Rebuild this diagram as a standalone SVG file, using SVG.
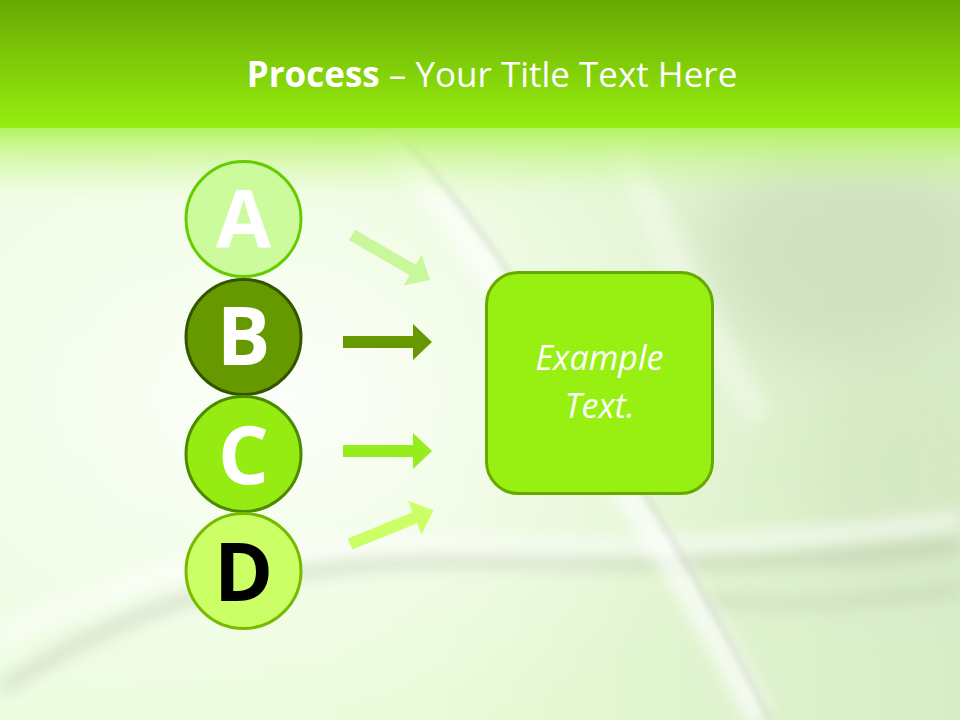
<svg xmlns="http://www.w3.org/2000/svg" width="960" height="720" viewBox="0 0 960 720">
<defs>
<linearGradient id="bgBase" x1="0" y1="0" x2="1" y2="0">
<stop offset="0" stop-color="#eefde2"/>
<stop offset="0.45" stop-color="#e8fbd6"/>
<stop offset="1" stop-color="#d8ecc8"/>
</linearGradient>
<linearGradient id="header" x1="0" y1="0" x2="0" y2="1">
<stop offset="0" stop-color="#68a804"/>
<stop offset="0.5" stop-color="#80cc08"/>
<stop offset="1" stop-color="#96ee10"/>
</linearGradient>
<linearGradient id="fadeTop" x1="0" y1="0" x2="0" y2="1">
<stop offset="0" stop-color="#b0f258" stop-opacity="1"/>
<stop offset="1" stop-color="#d8fab0" stop-opacity="0"/>
</linearGradient>
<radialGradient id="glow" cx="0.3" cy="0.55" r="0.5">
<stop offset="0" stop-color="#ffffff" stop-opacity="0.85"/>
<stop offset="1" stop-color="#ffffff" stop-opacity="0"/>
</radialGradient>
<filter id="blur8" filterUnits="userSpaceOnUse" x="-100" y="-100" width="1160" height="920"><feGaussianBlur stdDeviation="8"/></filter>
<filter id="blur3" filterUnits="userSpaceOnUse" x="-100" y="-100" width="1160" height="920"><feGaussianBlur stdDeviation="3"/></filter>
<filter id="blur25" filterUnits="userSpaceOnUse" x="-100" y="-100" width="1160" height="920"><feGaussianBlur stdDeviation="30"/></filter>
</defs>
<style>
.letter{font-family:"Open Sans","DejaVu Sans",sans-serif;font-weight:bold;font-size:80px;text-anchor:middle}
.title{font-family:"Open Sans","DejaVu Sans",sans-serif;font-size:35px;fill:#ffffff;text-anchor:middle}
.box-text{font-family:"Open Sans","DejaVu Sans",sans-serif;font-style:italic;font-size:34px;fill:#ffffff;text-anchor:middle}
.circ{stroke-width:3}
</style>

<g id="background">
<rect x="0" y="0" width="960" height="720" fill="url(#bgBase)"/>
<ellipse cx="840" cy="250" rx="140" ry="110" fill="#c8d6ba" opacity="0.55" filter="url(#blur25)"/>
<ellipse cx="900" cy="470" rx="90" ry="120" fill="#d0e4be" opacity="0.5" filter="url(#blur25)"/>
<rect x="0" y="0" width="960" height="720" fill="url(#glow)"/>
<path d="M0,690 C150,590 300,560 470,560 C620,560 760,570 960,545" fill="none" stroke="#a8b4a0" stroke-width="14" opacity="0.35" filter="url(#blur8)"/>
<path d="M0,640 C140,560 300,540 470,545 C640,552 800,540 960,520" fill="none" stroke="#ffffff" stroke-width="18" opacity="0.6" filter="url(#blur8)"/>
<path d="M700,600 C800,610 880,600 960,590" fill="none" stroke="#a8b4a0" stroke-width="10" opacity="0.3" filter="url(#blur8)"/>
<path d="M380,130 C470,230 520,320 580,420 C650,530 700,600 760,720" fill="none" stroke="#ffffff" stroke-width="26" opacity="0.7" filter="url(#blur8)"/>
<path d="M400,135 C490,230 540,320 600,420 C665,525 710,600 770,720" fill="none" stroke="#b4bcac" stroke-width="4" opacity="0.45" filter="url(#blur3)"/>
<path d="M620,140 C660,230 700,320 760,420" fill="none" stroke="#ffffff" stroke-width="30" opacity="0.35" filter="url(#blur8)"/>
<rect x="0" y="125" width="960" height="75" fill="url(#fadeTop)"/>
</g>

<g id="header-band">
<rect x="0" y="0" width="960" height="128" fill="url(#header)"/>
<text class="title" x="492" y="87"><tspan font-weight="bold">Process</tspan> – Your Title Text Here</text>
</g>

<g id="connectors">
<polygon id="arrow-a" points="0,-6 70,-6 70,-18 90,0 70,18 70,6 0,6" fill="#c8f79c" transform="translate(352,235) rotate(30)"/>
<polygon id="arrow-b" points="343,336 413,336 413,324 432,342 413,360 413,348 343,348" fill="#669900"/>
<polygon id="arrow-c" points="343,445 413,445 413,433 432,451 413,469 413,457 343,457" fill="#96ec1c"/>
<polygon id="arrow-d" points="0,-6 70,-6 70,-18 90,0 70,18 70,6 0,6" fill="#ccff66" transform="translate(350,544) rotate(-22)"/>
</g>

<g id="node-a">
<circle class="circ" cx="243.5" cy="219" r="57.5" fill="#cbfb9c" stroke="#66cc00"/>
<text class="letter" x="243.5" y="248" fill="#ffffff">A</text>
</g>
<g id="node-b">
<circle class="circ" cx="243.5" cy="337" r="57.5" fill="#669900" stroke="#335500"/>
<text class="letter" x="243.5" y="365" fill="#ffffff">B</text>
</g>
<g id="node-c">
<circle class="circ" cx="243.5" cy="454" r="57.5" fill="#96ec12" stroke="#4c8a00"/>
<text class="letter" x="243.5" y="484" fill="#ffffff">C</text>
</g>
<g id="node-d">
<circle class="circ" cx="243.5" cy="571" r="57.5" fill="#ccff66" stroke="#77bb00"/>
<text class="letter" x="243.5" y="601" fill="#000000">D</text>
</g>

<g id="node-box">
<rect x="486.5" y="272.5" width="226" height="221" rx="32" ry="32" fill="#98f012" stroke="#66aa00" stroke-width="3"/>
<text class="box-text" x="599.5" y="370">Example</text>
<text class="box-text" x="599.5" y="418">Text.</text>
</g>
</svg>
